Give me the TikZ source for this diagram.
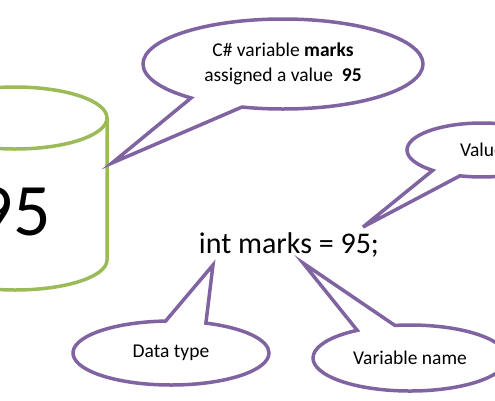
\documentclass[tikz,border=0pt]{standalone}
\usepackage{fontspec}
\setmainfont{Carlito}
\usetikzlibrary{shapes.callouts}
\definecolor{drumgreen}{HTML}{9BBB59}
\definecolor{notepurple}{HTML}{8064A2}

\tikzset{
  note/.style={ellipse callout, draw=notepurple, fill=white, line width=3.5pt, inner sep=0pt,
    callout pointer arc=24, align=center, font=\fontsize{19.5}{25}\selectfont},
  drum/.style={draw=drumgreen, line width=3.5pt}
}

\begin{document}
\begin{tikzpicture}[x=1pt, y=-1pt]
\clip (0,0) rectangle (495,400);
% memory drum holding the value
\draw[drum] (15,118) ellipse [x radius=92, y radius=31];
\draw[drum] (107,118) -- (107,260) arc[start angle=0, end angle=180, x radius=92, y radius=30] -- (-77,118);
\node (store) at (13,212) {\fontsize{74}{80}\selectfont 95};

% the statement
\node[anchor=base, font=\fontsize{30}{34}\selectfont] (stmt) at (289,253) {int marks = 95;};
\coordinate (drumtip) at (112,163);
\coordinate (valuetip) at (363,227);
\coordinate (typetip) at (213,265);
\coordinate (nametip) at (303,263);

\node[note, minimum width=280pt, minimum height=90pt, callout absolute pointer={(drumtip)}] (assignnote) at (283,64)
  {C\# variable \textbf{marks}\\assigned a value~~\textbf{95}};
\node[note, minimum width=150pt, minimum height=54pt, callout absolute pointer={(valuetip)}] (valuenote) at (482,150) {Value};
\node[note, minimum width=196pt, minimum height=64pt, callout absolute pointer={(typetip)}] (typenote) at (171,353) {Data type};
\node[note, minimum width=194pt, minimum height=66pt, callout absolute pointer={(nametip)}] (namenote) at (410,358) {Variable name};
\end{tikzpicture}
\end{document}
